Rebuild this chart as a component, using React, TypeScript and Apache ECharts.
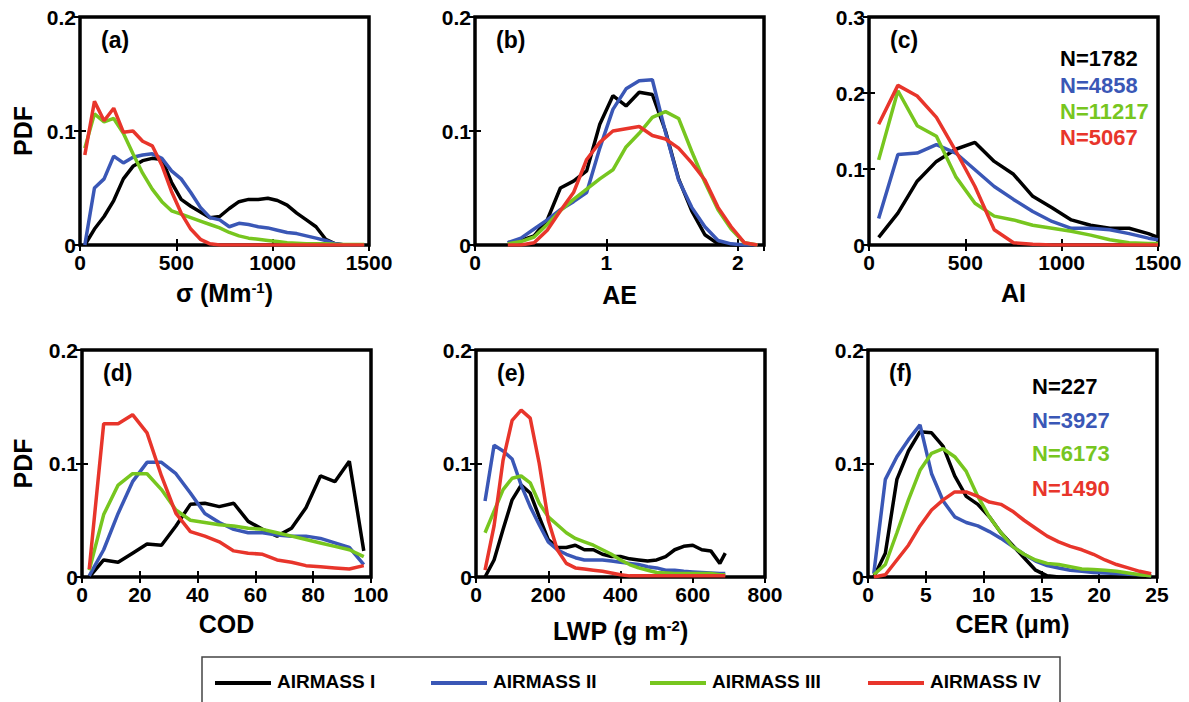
import React, { useEffect, useRef } from 'react';
import * as echarts from 'echarts';

// ---------- data ----------
const airmasses = ['AIRMASS I', 'AIRMASS II', 'AIRMASS III', 'AIRMASS IV'];

// (a) extinction coefficient sigma (Mm^-1)
const aX = [25, 75, 125, 175, 225, 275, 325, 375, 425, 475, 525, 575, 625, 675, 725, 775, 825, 875, 925, 975, 1025, 1075, 1125, 1175, 1225, 1275, 1325, 1375, 1425, 1475];
const aI = [0, 0.014, 0.025, 0.039, 0.058, 0.069, 0.074, 0.076, 0.075, 0.055, 0.040, 0.034, 0.029, 0.024, 0.025, 0.032, 0.038, 0.040, 0.040, 0.041, 0.039, 0.035, 0.028, 0.022, 0.016, 0.005, 0.001, 0, 0, 0];
const aII = [0, 0.050, 0.058, 0.078, 0.072, 0.077, 0.079, 0.080, 0.076, 0.065, 0.058, 0.046, 0.033, 0.024, 0.022, 0.016, 0.019, 0.018, 0.016, 0.015, 0.013, 0.011, 0.010, 0.008, 0.006, 0.004, 0.001, 0, 0, 0];
const aIII = [0.085, 0.115, 0.108, 0.111, 0.098, 0.080, 0.063, 0.049, 0.038, 0.030, 0.027, 0.024, 0.021, 0.018, 0.015, 0.011, 0.008, 0.006, 0.005, 0.004, 0.003, 0.002, 0.0015, 0.001, 0.001, 0.001, 0.0006, 0.0005, 0.0005, 0.0005];
const aIV = [0.079, 0.126, 0.109, 0.120, 0.099, 0.100, 0.091, 0.087, 0.070, 0.047, 0.028, 0.014, 0.005, 0.001, 0, 0, 0, 0, 0, 0, 0, 0, 0, 0, 0, 0, 0, 0, 0, 0];

// (b) AE
const bX = [0.25, 0.35, 0.45, 0.55, 0.65, 0.75, 0.85, 0.95, 1.05, 1.15, 1.25, 1.35, 1.45, 1.55, 1.65, 1.75, 1.85, 1.95, 2.05, 2.15];
const bI = [0.002, 0.004, 0.008, 0.022, 0.050, 0.056, 0.065, 0.106, 0.131, 0.122, 0.134, 0.132, 0.100, 0.058, 0.030, 0.009, 0.001, 0, 0, 0];
const bII = [0.002, 0.006, 0.014, 0.022, 0.031, 0.038, 0.046, 0.085, 0.119, 0.137, 0.144, 0.145, 0.099, 0.057, 0.033, 0.016, 0.004, 0.001, 0, 0];
const bIII = [0.001, 0.003, 0.007, 0.018, 0.030, 0.040, 0.049, 0.058, 0.066, 0.086, 0.098, 0.112, 0.117, 0.111, 0.082, 0.055, 0.031, 0.014, 0.002, 0];
const bIV = [0, 0, 0.002, 0.013, 0.030, 0.046, 0.075, 0.090, 0.100, 0.102, 0.104, 0.096, 0.093, 0.085, 0.072, 0.057, 0.033, 0.016, 0.002, 0];

// (c) AI
const cX = [50, 150, 250, 350, 450, 550, 650, 750, 850, 950, 1050, 1150, 1250, 1350, 1450, 1500];
const cI = [0.010, 0.042, 0.084, 0.110, 0.126, 0.135, 0.110, 0.093, 0.064, 0.049, 0.033, 0.026, 0.022, 0.022, 0.015, 0.010];
const cII = [0.035, 0.119, 0.121, 0.132, 0.121, 0.099, 0.077, 0.060, 0.044, 0.031, 0.022, 0.022, 0.020, 0.015, 0.009, 0.007];
const cIII = [0.112, 0.203, 0.157, 0.143, 0.090, 0.055, 0.038, 0.033, 0.026, 0.022, 0.018, 0.013, 0.007, 0.003, 0.002, 0.002];
const cIV = [0.159, 0.210, 0.196, 0.168, 0.124, 0.077, 0.020, 0.003, 0.001, 0, 0, 0, 0, 0, 0, 0];
const cCounts = ['N=1782', 'N=4858', 'N=11217', 'N=5067'];

// (d) COD
const dX = [2.5, 7.5, 12.5, 17.5, 22.5, 27.5, 32.5, 37.5, 42.5, 47.5, 52.5, 57.5, 62.5, 67.5, 72.5, 77.5, 82.5, 87.5, 92.5, 97.5];
const dI = [0, 0.015, 0.013, 0.021, 0.029, 0.028, 0.045, 0.064, 0.065, 0.062, 0.065, 0.049, 0.042, 0.036, 0.043, 0.061, 0.089, 0.084, 0.102, 0.023];
const dII = [0.001, 0.024, 0.056, 0.084, 0.101, 0.101, 0.091, 0.074, 0.056, 0.048, 0.042, 0.039, 0.039, 0.037, 0.036, 0.036, 0.034, 0.030, 0.026, 0.011];
const dIII = [0.006, 0.055, 0.081, 0.091, 0.091, 0.077, 0.059, 0.050, 0.048, 0.046, 0.045, 0.043, 0.042, 0.039, 0.036, 0.033, 0.030, 0.027, 0.024, 0.018];
const dIV = [0.007, 0.135, 0.135, 0.143, 0.127, 0.089, 0.056, 0.040, 0.036, 0.031, 0.023, 0.021, 0.020, 0.015, 0.013, 0.010, 0.009, 0.008, 0.007, 0.010];

// (e) LWP (g m^-2)
const eX = [25, 50, 75, 100, 125, 150, 175, 200, 225, 250, 275, 300, 325, 350, 375, 400, 425, 450, 475, 500, 525, 550, 575, 600, 625, 650, 675, 690];
const eI = [0, 0.015, 0.042, 0.068, 0.081, 0.074, 0.053, 0.033, 0.026, 0.026, 0.028, 0.024, 0.024, 0.020, 0.018, 0.018, 0.016, 0.015, 0.014, 0.015, 0.018, 0.024, 0.027, 0.028, 0.024, 0.023, 0.012, 0.021];
const eII = [0.067, 0.116, 0.111, 0.104, 0.081, 0.062, 0.046, 0.031, 0.024, 0.020, 0.017, 0.015, 0.015, 0.015, 0.014, 0.013, 0.012, 0.011, 0.009, 0.008, 0.006, 0.006, 0.005, 0.0045, 0.004, 0.0035, 0.003, 0.003];
const eIII = [0.039, 0.058, 0.077, 0.087, 0.089, 0.083, 0.065, 0.053, 0.046, 0.039, 0.034, 0.031, 0.028, 0.024, 0.020, 0.015, 0.011, 0.008, 0.006, 0.004, 0.0035, 0.003, 0.003, 0.003, 0.003, 0.003, 0.002, 0.002];
const eIV = [0.006, 0.045, 0.103, 0.138, 0.147, 0.140, 0.100, 0.050, 0.024, 0.012, 0.008, 0.007, 0.006, 0.005, 0.0035, 0.002, 0.001, 0.001, 0.001, 0.001, 0.001, 0.001, 0.001, 0.001, 0.001, 0.001, 0.001, 0.001];

// (f) CER (um)
const fX = [0.5, 1.5, 2.5, 3.5, 4.5, 5.5, 6.5, 7.5, 8.5, 9.5, 10.5, 11.5, 12.5, 13.5, 14.5, 15.5, 16.5, 17.5, 18.5, 19.5, 20.5, 21.5, 22.5, 23.5, 24.5];
const fI = [0, 0.021, 0.086, 0.111, 0.128, 0.127, 0.115, 0.089, 0.071, 0.064, 0.053, 0.039, 0.028, 0.017, 0.006, 0.001, 0, 0, 0, 0, 0, 0, 0, 0, 0];
const fII = [0.003, 0.086, 0.106, 0.121, 0.134, 0.091, 0.067, 0.053, 0.048, 0.045, 0.040, 0.034, 0.027, 0.020, 0.014, 0.010, 0.008, 0.006, 0.005, 0.004, 0.0035, 0.003, 0.0025, 0.002, 0.001];
const fIII = [0.002, 0.011, 0.039, 0.068, 0.094, 0.109, 0.113, 0.106, 0.093, 0.071, 0.053, 0.039, 0.027, 0.020, 0.015, 0.012, 0.011, 0.009, 0.007, 0.0065, 0.006, 0.005, 0.0035, 0.002, 0.001];
const fIV = [0, 0.002, 0.015, 0.028, 0.045, 0.059, 0.068, 0.075, 0.075, 0.071, 0.066, 0.064, 0.058, 0.050, 0.043, 0.036, 0.031, 0.027, 0.024, 0.020, 0.015, 0.011, 0.008, 0.005, 0.003];
const fCounts = ['N=227', 'N=3927', 'N=6173', 'N=1490'];

// ---------- styles / layout ----------
const FONT = '"Liberation Sans", Arial, Helvetica, sans-serif';
const COLORS = ['#000000', '#3a57b6', '#77c61f', '#e8352b'];

const panels = [
  { tag: '(a)', xs: aX, ys: [aI, aII, aIII, aIV], xMin: 0, xMax: 1500, xInt: 500, yMax: 0.2, xName: '{t|σ (Mm}{s|-1}{t|)}', pdf: true, left: 80, top: 17, w: 289, h: 228, gap: 35 },
  { tag: '(b)', xs: bX, ys: [bI, bII, bIII, bIV], xMin: 0, xMax: 2.2, xInt: 1, yMax: 0.2, xName: '{t|AE}', pdf: false, left: 475, top: 17, w: 289, h: 228, gap: 37 },
  { tag: '(c)', xs: cX, ys: [cI, cII, cIII, cIV], xMin: 0, xMax: 1500, xInt: 500, yMax: 0.3, xName: '{t|AI}', pdf: false, left: 869, top: 17, w: 289, h: 228, gap: 35 },
  { tag: '(d)', xs: dX, ys: [dI, dII, dIII, dIV], xMin: 0, xMax: 100, xInt: 20, yMax: 0.2, xName: '{t|COD}', pdf: true, left: 82, top: 350, w: 289, h: 227, gap: 34 },
  { tag: '(e)', xs: eX, ys: [eI, eII, eIII, eIV], xMin: 0, xMax: 800, xInt: 200, yMax: 0.2, xName: '{t|LWP (g m}{s|-2}{t|)}', pdf: false, left: 476, top: 350, w: 289, h: 227, gap: 41 },
  { tag: '(f)', xs: fX, ys: [fI, fII, fIII, fIV], xMin: 0, xMax: 25, xInt: 5, yMax: 0.2, xName: '{t|CER (μm)}', pdf: false, left: 868, top: 350, w: 289, h: 227, gap: 34 },
];

const isMultiple = (v: number, step: number) => Math.abs(v / step - Math.round(v / step)) < 1e-6;

function buildOption() {
  const grid: any[] = [];
  const xAxis: any[] = [];
  const yAxis: any[] = [];
  const series: any[] = [];
  const graphic: any[] = [];

  const tickStyle = { show: true, inside: true, length: 6, lineStyle: { color: '#000', width: 2 } };
  const labelBase = { color: '#000', fontSize: 21, fontWeight: 'bold', fontFamily: FONT };

  panels.forEach((p, i) => {
    grid.push({ left: p.left, top: p.top, width: p.w, height: p.h, show: true, borderColor: '#000', borderWidth: 3.5, backgroundColor: 'transparent', containLabel: false });
    const xCommon = { type: 'value', gridIndex: i, min: p.xMin, max: p.xMax, interval: p.xInt, axisLine: { show: false }, splitLine: { show: false }, axisTick: tickStyle };
    xAxis.push({
      ...xCommon,
      position: 'bottom',
      axisLabel: { ...labelBase, margin: 7, formatter: (v: number) => (isMultiple(v, p.xInt) ? String(Math.round(v * 1000) / 1000) : '') },
      name: p.xName,
      nameLocation: 'middle',
      nameGap: p.gap,
      nameTextStyle: {
        rich: {
          t: { fontSize: 25, fontWeight: 'bold', fontFamily: FONT, color: '#000' },
          s: { fontSize: 15, fontWeight: 'bold', fontFamily: FONT, color: '#000', verticalAlign: 'top' },
        },
      },
    });
    xAxis.push({ ...xCommon, position: 'top', axisLabel: { show: false } });
    const yCommon = { type: 'value', gridIndex: i, min: 0, max: p.yMax, interval: 0.1, axisLine: { show: false }, splitLine: { show: false }, axisTick: tickStyle };
    yAxis.push({
      ...yCommon,
      position: 'left',
      axisLabel: { ...labelBase, margin: 4, formatter: (v: number) => (v === 0 ? '0' : v.toFixed(1)) },
      name: p.pdf ? 'PDF' : '',
      nameLocation: 'middle',
      nameGap: p.left - 35,
      nameTextStyle: { fontSize: 25, fontWeight: 'bold', fontFamily: FONT, color: '#000' },
    });
    yAxis.push({ ...yCommon, position: 'right', axisLabel: { show: false } });

    p.ys.forEach((ys, j) => {
      series.push({
        type: 'line',
        name: airmasses[j],
        xAxisIndex: 2 * i,
        yAxisIndex: 2 * i,
        data: p.xs.map((x, k) => [x, ys[k]]),
        showSymbol: false,
        symbol: 'none',
        silent: true,
        lineStyle: { color: COLORS[j], width: 3.5 },
        itemStyle: { color: COLORS[j] },
        z: 2 + j,
      });
    });

    graphic.push({
      type: 'text',
      x: p.left + 21,
      y: p.top + 23,
      style: { text: p.tag, fontSize: 23, fontWeight: 'bold', fontFamily: FONT, fill: '#000', verticalAlign: 'middle' },
      z: 10,
    });
  });

  // sample counts
  const cYs = [58, 85, 111, 137];
  cCounts.forEach((t, j) => {
    graphic.push({ type: 'text', x: 1060, y: cYs[j], style: { text: t, fontSize: 22, fontWeight: 'bold', fontFamily: FONT, fill: COLORS[j], verticalAlign: 'middle' }, z: 10 });
  });
  const fYs = [386, 420, 453, 488];
  fCounts.forEach((t, j) => {
    graphic.push({ type: 'text', x: 1032, y: fYs[j], style: { text: t, fontSize: 22, fontWeight: 'bold', fontFamily: FONT, fill: COLORS[j], verticalAlign: 'middle' }, z: 10 });
  });

  // legend box
  graphic.push({ type: 'rect', shape: { x: 202, y: 657, width: 858, height: 60 }, style: { fill: '#fff', stroke: '#444', lineWidth: 1.5 }, z: 5 });
  const legX = [215, 431, 650, 868];
  airmasses.forEach((name, j) => {
    graphic.push({ type: 'line', shape: { x1: legX[j], y1: 683, x2: legX[j] + 56, y2: 683 }, style: { stroke: COLORS[j], lineWidth: 4 }, z: 6 });
    graphic.push({ type: 'text', x: legX[j] + 62, y: 681, style: { text: name, fontSize: 19, fontWeight: 'bold', fontFamily: FONT, fill: '#000', verticalAlign: 'middle' }, z: 6 });
  });

  return { animation: false, backgroundColor: '#fff', grid, xAxis, yAxis, series, graphic };
}

export default function App() {
  const ref = useRef<HTMLDivElement>(null);
  useEffect(() => {
    if (!ref.current) return;
    const chart = echarts.init(ref.current, undefined, { renderer: 'svg' });
    chart.setOption(buildOption() as any);
    return () => chart.dispose();
  }, []);
  return <div ref={ref} style={{ position: 'absolute', left: 0, top: 0, width: 1189, height: 702, background: '#fff' }} />;
}
